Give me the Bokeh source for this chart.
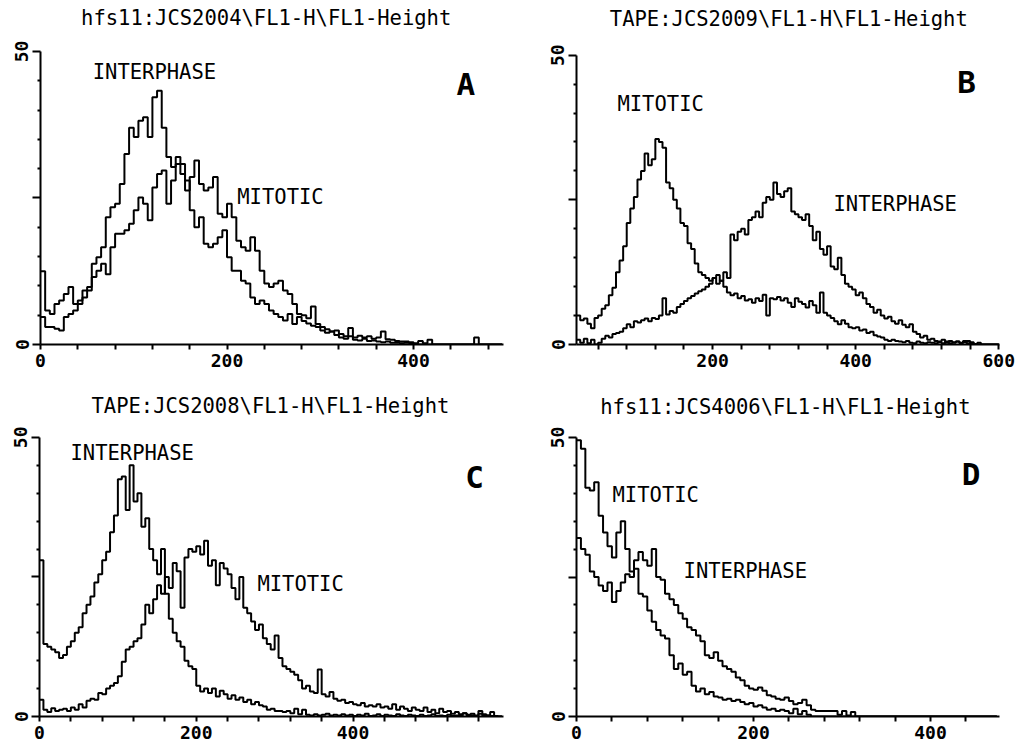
from bokeh.plotting import figure
from bokeh.models import Range1d, FixedTicker, Label
from bokeh.layouts import column, row
from bokeh.embed import file_html
from bokeh.resources import INLINE

# ---------------- data (counts per 5-channel bin) ----------------
A_bins = list(range(0, 500, 5))
A_interphase = [12.5, 5.8, 5.2, 6.9, 7.5, 8.6, 9.8, 6.9, 7.5, 9.2,
                9.8, 13.8, 14.9, 16.6, 21.7, 23.4, 24.0, 27.4, 32.5, 37.0,
                35.4, 38.2, 38.8, 35.4, 42.2, 43.3, 37.0, 32.0, 30.3, 30.8,
                29.1, 28.0, 22.9, 20.0, 21.7, 17.2, 16.6, 17.2, 18.3, 19.5,
                14.9, 12.6, 12.6, 10.9, 10.4, 8.0, 6.9, 7.5, 6.9, 5.8,
                5.2, 4.7, 4.1, 5.2, 3.5, 4.7, 4.0, 3.6, 3.2, 3.0,
                2.4, 2.0, 2.2, 1.6, 1.2, 1.0, 1.4, 0.8, 0.7, 1.0,
                0.6, 0.7, 0.5, 0.4, 0.5, 0.3, 0.3, 0.2, 0.3, 0.2,
                0.1, 0, 0, 0, 0, 0, 0, 0, 0, 0,
                0, 0, 0, 0, 0, 0, 0, 0, 0, 0]
A_mitotic = [4.7, 3.0, 3.0, 2.7, 2.4, 4.7, 5.2, 5.8, 6.9, 8.0,
             9.2, 11.5, 12.6, 13.8, 12.0, 16.6, 18.9, 18.9, 19.5, 20.6,
             22.9, 25.1, 24.0, 21.2, 26.8, 29.1, 29.7, 24.0, 28.0, 32.0,
             30.8, 26.3, 28.6, 31.4, 27.4, 26.3, 26.8, 28.6, 22.3, 21.7,
             24.0, 21.7, 17.7, 16.6, 16.0, 18.3, 16.0, 12.6, 10.4, 9.8,
             10.4, 10.9, 9.2, 8.6, 6.9, 5.2, 5.0, 4.5, 6.5, 3.5,
             3.0, 2.6, 2.2, 2.4, 1.8, 1.4, 2.8, 1.2, 1.5, 1.2,
             1.4, 1.0, 1.2, 2.2, 0.9, 0.8, 0.6, 0.5, 0.5, 0.4,
             0.2, 0.6, 0.2, 0.8, 0, 0, 0, 0, 0, 0,
             0, 0, 0, 1.2, 0, 0, 0, 0, 0, 0]

B_bins = list(range(10, 605, 5))
B_mitotic = [5.0, 4.2, 4.5, 3.6, 2.8, 4.6, 5.0, 6.2, 6.8, 8.5,
             9.8, 12.5, 14.5, 17.0, 21.0, 23.5, 25.5, 28.5, 30.0, 33.0,
             31.0, 32.0, 35.5, 35.0, 34.0, 28.0, 27.0, 25.0, 23.5, 21.0,
             20.5, 17.5, 16.5, 14.0, 12.5, 12.0, 11.5, 11.0, 11.5, 10.5,
             11.0, 10.0, 9.0, 8.5, 8.8, 8.0, 8.4, 7.6, 7.8, 7.2,
             8.0, 7.5, 8.6, 5.0, 8.0, 7.8, 8.2, 7.6, 8.0, 7.2,
             6.5, 8.0, 7.4, 7.0, 6.4, 7.5, 6.8, 5.5, 9.0, 5.5,
             5.0, 4.6, 4.0, 3.5, 4.2, 3.6, 3.0, 2.8, 3.0, 2.4,
             2.6, 2.0, 2.2, 1.6, 1.4, 1.2, 0.8, 0.6, 0.8, 0.6,
             0.5, 0.4, 0.6, 0.3, 0.2, 0.5, 0.3, 0.2, 0.4, 0.3,
             0.2, 0.4, 0.2, 0.5, 0.2, 0.3, 0.5, 0.2, 0.4, 0.6,
             0.2, 0, 0.3, 0, 0, 0, 0, 0, 0]
B_interphase = [0.8, 0.3, 1.0, 0.2, 0.8, 0.0, 0.3, 1.0, 1.5, 1.2,
                1.8, 2.0, 2.2, 2.8, 3.5, 3.0, 4.0, 3.8, 4.2, 4.5,
                4.0, 4.6, 4.4, 5.0, 8.0, 5.2, 5.8, 5.5, 6.5, 7.0,
                7.5, 8.0, 8.4, 8.8, 9.2, 9.5, 10.0, 10.5, 11.5, 12.0,
                11.0, 12.5, 11.5, 19.0, 18.0, 19.5, 20.0, 19.0, 21.5, 22.0,
                23.0, 22.0, 24.5, 25.5, 25.0, 28.0, 26.0, 25.5, 26.5, 27.0,
                23.0, 22.5, 22.0, 21.5, 22.5, 20.5, 18.0, 19.5, 16.5, 15.5,
                17.0, 13.5, 13.0, 15.0, 12.0, 10.5, 10.0, 9.5, 8.5, 9.0,
                8.0, 7.0, 6.5, 5.5, 6.0, 5.0, 4.5, 4.8, 4.0, 3.6,
                4.2, 3.4, 3.0, 3.5, 2.2, 1.8, 1.2, 1.5, 0.8, 1.0,
                0.6, 0.5, 0.8, 0.3, 0.6, 0.4, 0.5, 0.3, 0.6, 0.2,
                0.4, 0.1, 0, 0, 0, 0, 0, 0, 0]

C_bins = list(range(0, 595, 5))
C_interphase = [28.0, 13.0, 12.5, 12.0, 11.5, 10.5, 11.0, 12.5, 13.5, 15.0,
                16.0, 18.5, 20.0, 21.5, 24.0, 25.5, 28.0, 29.5, 33.0, 36.0,
                42.5, 43.0, 37.0, 45.0, 38.5, 40.0, 34.0, 35.5, 30.0, 28.0,
                25.5, 30.0, 22.0, 17.5, 15.0, 13.5, 12.5, 10.0, 9.0, 8.5,
                5.5, 4.5, 5.0, 4.2, 5.0, 3.6, 4.6, 4.0, 3.2, 3.8,
                3.0, 3.4, 2.6, 3.0, 2.2, 2.6, 2.0, 1.8, 1.2, 1.4,
                1.0, 1.0, 0.8, 1.0, 0.6, 1.4, 0.4, 1.2, 0.3, 0.2,
                0.4, 0.2, 0.3, 0.5, 0.2, 0.3, 0.2, 0.4, 0.2, 0.3,
                0.1, 0.3, 0.2, 0.5, 0.1, 0.2, 0.4, 0.1, 0.3, 0.2,
                0.1, 0.4, 0.2, 0.1, 0.3, 0.2, 0.1, 0.3, 0.1, 0.2,
                0.4, 0.1, 0.2, 0.1, 0.3, 0.1, 0.2, 0.1, 0.6, 0.1,
                0.2, 0.1, 0.5, 0.1, 0.2, 0.1, 0, 0, 0]
C_mitotic = [3.0, 1.2, 0.8, 1.5, 1.0, 1.2, 1.4, 1.0, 1.6, 1.2,
             2.2, 1.6, 2.8, 3.2, 3.0, 4.2, 4.0, 5.0, 5.5, 6.0,
             7.2, 9.8, 12.0, 12.5, 13.5, 14.0, 16.5, 20.0, 18.5, 21.0,
             23.5, 22.0, 25.0, 23.0, 27.5, 26.0, 19.5, 28.5, 30.0, 29.5,
             30.5, 29.0, 31.5, 27.0, 28.0, 23.5, 27.5, 26.5, 25.5, 23.0,
             21.0, 25.0, 19.5, 18.5, 17.0, 15.5, 16.5, 14.0, 13.0, 12.0,
             14.5, 10.5, 9.0, 8.5, 8.0, 7.5, 6.5, 5.0, 5.5, 4.5,
             4.2, 8.4, 4.0, 3.6, 4.4, 3.2, 2.8, 3.0, 2.4, 2.6,
             2.2, 2.0, 2.4, 1.8, 2.0, 1.8, 2.2, 1.6, 1.8, 1.4,
             2.2, 1.2, 1.8, 1.4, 1.0, 1.6, 1.2, 1.0, 1.6, 0.8,
             1.2, 0.6, 1.4, 0.8, 1.0, 0.5, 0.8, 0.4, 0.6, 0.3,
             0.5, 0.2, 1.0, 0.4, 0.2, 0.8, 0.1, 0, 0]

D_bins = list(range(0, 480, 5))
D_mitotic = [49.5, 48.0, 41.0, 40.5, 42.0, 36.0, 33.0, 30.5, 28.5, 33.0,
             35.0, 30.0, 26.0, 26.5, 22.0, 21.5, 19.0, 17.0, 15.5, 14.5,
             14.0, 11.0, 8.5, 9.5, 7.5, 8.0, 5.5, 4.5, 5.0, 4.0,
             4.4, 3.6, 3.4, 3.0, 3.2, 2.8, 3.0, 2.6, 2.2, 2.4,
             1.8, 2.0, 1.6, 1.2, 1.4, 1.0, 1.2, 1.0, 0.6, 1.4,
             0.4, 1.0, 0.3, 0, 0, 0, 0, 0, 0, 0,
             0, 0, 0, 0, 0, 0, 0, 0, 0, 0,
             0, 0, 0, 0, 0, 0, 0, 0, 0, 0,
             0, 0, 0, 0, 0, 0, 0, 0, 0, 0,
             0, 0, 0, 0, 0, 0]
D_interphase = [32.0, 30.0, 29.0, 26.0, 25.0, 23.5, 22.5, 24.0, 20.5, 22.5,
                24.0, 25.5, 25.0, 28.0, 29.5, 28.0, 27.0, 30.0, 25.0, 24.5,
                22.0, 21.0, 20.0, 18.5, 17.5, 16.0, 15.5, 14.5, 13.5, 11.0,
                10.5, 11.5, 10.0, 9.0, 8.5, 8.0, 7.0, 6.5, 5.5, 5.0,
                4.8, 5.2, 4.6, 3.8, 3.6, 3.2, 3.0, 3.4, 2.8, 2.2,
                2.4, 3.0, 2.0, 1.2, 1.0, 1.0, 1.0, 1.0, 1.0, 0.3,
                1.0, 0.2, 0.8, 0, 0, 0, 0, 0, 0, 0,
                0, 0, 0, 0, 0, 0, 0, 0, 0, 0,
                0, 0, 0, 0, 0, 0, 0, 0, 0, 0,
                0, 0, 0, 0, 0, 0]

TITLES = ["hfs11:JCS2004\\FL1-H\\FL1-Height", "TAPE:JCS2009\\FL1-H\\FL1-Height",
          "TAPE:JCS2008\\FL1-H\\FL1-Height", "hfs11:JCS4006\\FL1-H\\FL1-Height"]

Y_MAJOR = [0, 25, 50]
Y_MINOR = [5, 10, 15, 20, 30, 35, 40, 45]

MONO = "DejaVu Sans Mono"


def panel(xr, ytop, xmajor, xminor, width, height, bl, br, bt, bb):
    # the frame is extended above 50 so the heading fits inside; the axis itself stops at 50
    p = figure(width=width, height=height, x_range=Range1d(*xr), y_range=Range1d(0, ytop),
               output_backend="svg", toolbar_location=None,
               min_border_left=bl, min_border_right=br, min_border_top=bt, min_border_bottom=bb)
    p.xgrid.visible = False
    p.ygrid.visible = False
    p.outline_line_color = None
    p.background_fill_color = "white"
    p.border_fill_color = "white"

    xa = p.xaxis[0]
    xa.ticker = FixedTicker(ticks=xmajor, minor_ticks=xminor)
    ya = p.yaxis[0]
    ya.bounds = (0, 50)
    ya.ticker = FixedTicker(ticks=Y_MAJOR, minor_ticks=Y_MINOR)
    ya.major_label_overrides = {25: ""}
    ya.major_label_orientation = "vertical"
    for ax in (xa, ya):
        ax.axis_line_width = 2
        ax.axis_line_color = "black"
        ax.major_tick_line_width = 2
        ax.minor_tick_line_width = 2
        ax.major_tick_line_color = "black"
        ax.minor_tick_line_color = "black"
        ax.major_tick_in = 0
        ax.minor_tick_in = 0
        ax.major_label_text_font = MONO
        ax.major_label_text_font_size = "18px"
        ax.major_label_text_font_style = "bold"
        ax.major_label_text_color = "black"
    xa.major_tick_out = 5
    xa.minor_tick_out = 5
    xa.major_label_standoff = 4
    ya.major_tick_out = 8
    ya.minor_tick_out = 3
    ya.major_label_standoff = 4
    return p


def curve(p, bins, vals):
    p.step(bins, vals, mode="after", line_color="black", line_width=2)


def label(p, x, y, txt, size="20.5px", bold=False, align="left"):
    p.add_layout(Label(x=x, y=y, text=txt, text_font=MONO, text_font_size=size,
                       text_font_style="bold" if bold else "normal", text_align=align,
                       text_baseline="middle", text_color="black"))


def tick40(lo, hi):
    return [t for t in range(lo, hi + 1, 40) if t % 200 != 0]


pA = panel((0, 496.5), 58.02, [0, 200, 400], tick40(40, 480), 520, 374, 40, 17, 4, 30)
curve(pA, A_bins, A_interphase)
curve(pA, A_bins, A_mitotic)
label(pA, 242, 55.72, TITLES[0], align="center")
label(pA, 56, 46.5, "INTERPHASE")
label(pA, 211, 25.2, "MITOTIC")
label(pA, 456, 44.4, "A", size="31px", bold=True, align="center")

pB = panel((9.8, 601), 58.76, [200, 400, 600], tick40(40, 600), 501, 374, 56, 22, 4, 28)
curve(pB, B_bins, B_mitotic)
curve(pB, B_bins, B_interphase)
label(pB, 306.5, 56.19, TITLES[1], align="center")
label(pB, 67, 41.5, "MITOTIC")
label(pB, 369, 24.3, "INTERPHASE")
label(pB, 555, 45.3, "B", size="31px", bold=True, align="center")

pC = panel((0, 592), 60.18, [0, 200, 400], tick40(40, 560), 520, 374, 39, 17, 6, 31)
curve(pC, C_bins, C_interphase)
curve(pC, C_bins, C_mitotic)
label(pC, 294.6, 55.63, TITLES[2], align="center")
label(pC, 39.5, 47.24, "INTERPHASE")
label(pC, 278, 23.66, "MITOTIC")
label(pC, 555, 42.95, "C", size="31px", bold=True, align="center")

pD = panel((0, 478), 60.22, [0, 200, 400], tick40(40, 440), 501, 374, 56, 22, 6, 32)
curve(pD, D_bins, D_mitotic)
curve(pD, D_bins, D_interphase)
label(pD, 236, 55.47, TITLES[3], align="center")
label(pD, 40.7, 39.7, "MITOTIC")
label(pD, 121, 26.07, "INTERPHASE")
label(pD, 446, 43.46, "D", size="31px", bold=True, align="center")

layout = column(row(pA, pB), row(pC, pD))
open("out.html", "w").write(file_html(layout, INLINE))
